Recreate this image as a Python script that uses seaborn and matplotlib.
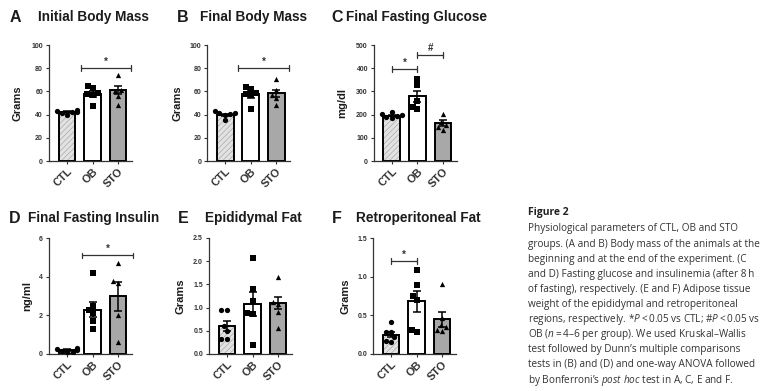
import matplotlib
matplotlib.use("Agg")
import matplotlib.pyplot as plt
from matplotlib.patches import Rectangle
import seaborn as sns
import pandas as pd

groups = ["CTL", "OB", "STO"]
bar_colors = ["#e2e2e2", "#ffffff", "#a8a8a8"]
point_markers = ["o", "s", "^"]

# A - initial body mass (g)
a_mean = [42, 58, 61]
a_sem = [0.8, 2.4, 3.4]
a_pts = [[44, 43, 42, 42, 41, 40], [65, 63, 59, 58, 57, 47], [74, 61, 60, 56, 48]]

# B - final body mass (g)
b_mean = [39.5, 57.5, 58.5]
b_sem = [1.0, 2.8, 3.0]
b_pts = [[43, 41.5, 41, 40.5, 40, 35.5], [63.5, 62, 58.5, 58, 57, 44.5], [71, 61, 57, 54, 48.5]]

# C - final fasting glucose (mg/dl)
c_mean = [196, 279, 163]
c_sem = [4, 24, 13]
c_pts = [[212, 203, 198, 195, 190, 186], [352, 328, 260, 234, 222], [203, 166, 155, 146, 135]]

# D - final fasting insulin (ng/ml)
d_mean = [0.2, 2.3, 3.0]
d_sem = [0.04, 0.4, 0.75]
d_pts = [[0.3, 0.25, 0.2, 0.15, 0.12, 0.1], [4.2, 2.5, 2.3, 2.1, 1.7, 1.3], [4.72, 3.76, 3.69, 2.0, 0.62]]

# E - epididymal fat (g)
e_mean = [0.61, 1.08, 1.09]
e_sem = [0.11, 0.26, 0.13]
e_pts = [[0.95, 0.94, 0.6, 0.5, 0.32, 0.32], [2.06, 1.4, 1.14, 0.88, 0.86, 0.19], [1.66, 1.13, 1.08, 0.91, 0.56]]

# F - retroperitoneal fat (g)
f_mean = [0.25, 0.68, 0.45]
f_sem = [0.035, 0.135, 0.095]
f_pts = [[0.41, 0.29, 0.28, 0.22, 0.17, 0.16], [1.09, 0.89, 0.75, 0.7, 0.31, 0.28], [0.91, 0.46, 0.38, 0.35, 0.31, 0.30]]

titles = ["Initial Body Mass", "Final Body Mass", "Final Fasting Glucose",
          "Final Fasting Insulin", "Epididymal Fat", "Retroperitoneal Fat"]
letters = ["A", "B", "C", "D", "E", "F"]
ylabels = ["Grams", "Grams", "mg/dl", "ng/ml", "Grams", "Grams"]
ymaxes = [100, 100, 500, 6, 2.5, 1.5]
ysteps = [20, 20, 100, 2, 0.5, 0.5]
tick_fmt = ["{:.0f}", "{:.0f}", "{:.0f}", "{:.0f}", "{:.1f}", "{:.1f}"]

# significance brackets: (x0, x1, y, symbol)
brackets = [
    [(0.55, 2.5, 80, "*")],
    [(0.5, 2.5, 80, "*")],
    [(0, 1, 395, "*"), (1, 2, 458, "#")],
    [(0.6, 2.6, 5.1, "*")],
    [],
    [(0, 1, 1.2, "*")],
]

ts = "\u2009"  # thin space
caption_lines = [
    "Physiological parameters of CTL, OB and STO",
    "groups. (A and B) Body mass of the animals at the",
    "beginning and at the end of the experiment. (C",
    "and D) Fasting glucose and insulinemia (after 8" + ts + "h",
    "of fasting), respectively. (E and F) Adipose tissue",
    "weight of the epididymal and retroperitoneal",
    "regions, respectively. *$P$" + ts + "<" + ts + "0.05 vs CTL; #$P$" + ts + "<" + ts + "0.05 vs",
    "OB ($n$" + ts + "=" + ts + "4\u20136 per group). We used Kruskal\u2013Wallis",
    "test followed by Dunn\u2019s multiple comparisons",
    "tests in (B) and (D) and one-way ANOVA followed",
    "by Bonferroni\u2019s $post\\ hoc$ test in A, C, E and F.",
]

means = [a_mean, b_mean, c_mean, d_mean, e_mean, f_mean]
sems = [a_sem, b_sem, c_sem, d_sem, e_sem, f_sem]
points = [a_pts, b_pts, c_pts, d_pts, e_pts, f_pts]

sns.set_theme(style="ticks")
plt.rcParams["font.family"] = ["Liberation Sans", "DejaVu Sans"]
plt.rcParams["hatch.linewidth"] = 0.45
plt.rcParams["mathtext.fontset"] = "custom"
plt.rcParams["mathtext.rm"] = "Open Sans"
plt.rcParams["mathtext.it"] = "Open Sans:italic"

W, H = 768, 391
fig = plt.figure(figsize=(W / 100, H / 100), dpi=100)

# layout in pixels
lefts = [48.6, 207, 373.5, 48.6, 208.6, 372.6]
tops = [45, 45, 45, 238, 238, 238]
ax_w, ax_h = 83, 116
ylab_x = [-0.32, -0.3, -0.32, -0.2, -0.28, -0.27]
letter_x = [15, 183, 337, 15, 183, 337]
title_x = [93, 253, 416, 94, 253, 418]
title_y = [17, 17, 17, 218, 218, 218]
ink = "#1c1c1c"

for i in range(6):
    ax = fig.add_axes([lefts[i] / W, 1 - (tops[i] + ax_h) / H, ax_w / W, ax_h / H])
    df = pd.DataFrame({"group": groups, "mean": means[i]})
    sns.barplot(data=df, x="group", y="mean", order=groups, ax=ax,
                width=0.66, edgecolor="black", linewidth=1.4, errorbar=None)
    for gi, patch in enumerate(list(ax.patches)[:3]):
        patch.set_facecolor(bar_colors[gi])
        if gi == 0:
            # light hatch, black outline drawn on top
            patch.set_hatch("//////")
            patch.set_edgecolor("#a5a5a5")
            patch.set_linewidth(0.4)
            ax.add_patch(Rectangle(patch.get_xy(), patch.get_width(), patch.get_height(),
                                   fill=False, edgecolor="black", lw=1.4,
                                   zorder=patch.get_zorder() + 0.1))
    ax.errorbar(range(3), means[i], yerr=sems[i], fmt="none", ecolor="black",
                elinewidth=1.1, capsize=3, capthick=1.1, zorder=4)
    for gi, g in enumerate(groups):
        pdf = pd.DataFrame({"group": g, "value": points[i][gi]})
        sns.swarmplot(data=pdf, x="group", y="value", order=groups, ax=ax,
                      marker=point_markers[gi], color="black", size=3.8,
                      zorder=5, warn_thresh=1)
    ymax = ymaxes[i]
    for (x0, x1, y, sym) in brackets[i]:
        d = ymax * 0.025
        ax.plot([x0, x1], [y, y], color="#333333", lw=0.9, clip_on=False)
        ax.plot([x0, x0], [y - d, y + d], color="#333333", lw=0.9, clip_on=False)
        ax.plot([x1, x1], [y - d, y + d], color="#333333", lw=0.9, clip_on=False)
        ax.text((x0 + x1) / 2, y + ymax * 0.015, sym, ha="center", va="bottom",
                fontsize=7, fontweight="bold", color="#333333")
    ax.set_xlim(-0.72, 2.53)
    ax.set_ylim(0, ymax)
    ticks = [ysteps[i] * k for k in range(int(round(ymax / ysteps[i])) + 1)]
    ax.set_yticks(ticks)
    ax.set_yticklabels([tick_fmt[i].format(t) for t in ticks], fontsize=5,
                       fontweight="bold", color="#333333")
    ax.set_xticks(range(3))
    ax.set_xticklabels(groups, rotation=45, ha="right", va="top",
                       rotation_mode="anchor", fontsize=8, fontweight="bold",
                       color=ink)
    ax.set_xlabel("")
    ax.set_ylabel(ylabels[i], fontsize=8, fontweight="bold", color=ink)
    ax.yaxis.set_label_coords(ylab_x[i], 0.5)
    sns.despine(ax=ax)
    for sp in ["left", "bottom"]:
        ax.spines[sp].set_linewidth(0.9)
        ax.spines[sp].set_color("#333333")
    ax.tick_params(axis="both", length=2.5, width=0.8, pad=1.5, colors="#333333")
    ax.set_facecolor("white")

    fig.text(letter_x[i] / W, 1 - title_y[i] / H, letters[i], fontsize=11.5,
             fontweight="bold", ha="center", va="center", color=ink)
    fig.text(title_x[i] / W, 1 - title_y[i] / H, titles[i], fontsize=9.8,
             fontweight="bold", ha="center", va="center", color=ink)

# figure caption
fig.text(528 / W, 1 - 212 / H, "Figure 2", fontsize=7.5, fontweight="bold",
         family=["Open Sans", "DejaVu Sans"], va="center", ha="left", color="#222222")
for k, line in enumerate(caption_lines):
    fig.text(528 / W, 1 - (229 + k * 15.1) / H, line, fontsize=7.2,
             fontweight="normal", family=["Open Sans", "DejaVu Sans"],
             va="center", ha="left", color="#333333")

fig.savefig("out.png", dpi=100, facecolor="white")
